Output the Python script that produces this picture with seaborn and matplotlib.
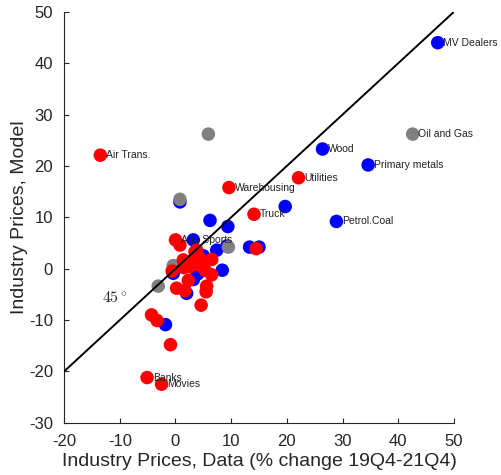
import pandas as pd
import matplotlib
matplotlib.use("Agg")
import matplotlib.pyplot as plt
import seaborn as sns

# 数据：行业价格变化（数据 vs 模型）
blue_x = [47.1, 26.4, 34.6, 28.9, 19.7, 0.8, 6.2, 9.4, 13.3, 15.0, 9.2, 7.4,
          3.2, 8.4, -0.4, 3.2, 2.0, -1.8, 5.0, 2.0, 4.0]
blue_y = [44.0, 23.3, 20.2, 9.2, 12.1, 13.0, 9.4, 8.2, 4.2, 4.2, 4.4, 3.6,
          5.6, -0.3, -0.9, -2.1, -4.8, -10.9, 2.5, 1.0, -1.0]
gray_x = [42.6, 5.9, 0.8, 9.5, -0.4, -3.1]
gray_y = [26.2, 26.2, 13.5, 4.2, 0.6, -3.4]
red_x = [-13.5, 22.1, 9.6, 14.1, 14.5, 0.0, 0.8, 3.8, 1.4, 3.2, 4.4, 6.5,
         -0.6, 2.6, 4.4, 5.3, 6.5, 2.3, 0.2, 1.7, 5.6, 5.5, 4.6, -4.3,
         -3.3, -0.9, -5.1, -2.5, 3.5, 1.5]
red_y = [22.1, 17.7, 15.8, 10.6, 3.9, 5.6, 4.6, 3.6, 1.7, 1.4, 2.0, 1.8,
         -0.45, 0.4, 0.7, -0.3, -1.2, -2.3, -3.8, -4.3, -3.4, -4.5, -7.1, -9.0,
         -10.1, -14.8, -21.2, -22.5, 3.3, 0.2]

# 标注的行业
label_names = ["MV Dealers", "Wood", "Primary metals", "Petrol.Coal",
               "Oil and Gas", "Air Trans.", "Utilities", "Warehousing",
               "Truck", "Arts Sports", "Banks", "Movies"]
label_x = [47.1, 26.4, 34.6, 28.9, 42.6, -13.5, 22.1, 9.6, 14.1, 0.0, -5.1, -2.5]
label_y = [44.0, 23.3, 20.2, 9.2, 26.2, 22.1, 17.7, 15.8, 10.6, 5.6, -21.2, -22.5]

df = pd.concat([
    pd.DataFrame({"data": blue_x, "model": blue_y, "grp": "blue"}),
    pd.DataFrame({"data": gray_x, "model": gray_y, "grp": "gray"}),
    pd.DataFrame({"data": red_x, "model": red_y, "grp": "red"}),
], ignore_index=True)

sns.set_style("ticks")
plt.rcParams['font.family'] = ['Liberation Sans', 'DejaVu Sans']
plt.rcParams['mathtext.fontset'] = 'cm'
plt.rcParams['axes.unicode_minus'] = False

fig = plt.figure(figsize=(5.01, 4.75), dpi=100)
ax = fig.add_axes([0.128, 0.110, 0.778, 0.865])

sns.scatterplot(data=df, x="data", y="model", hue="grp",
                palette={"blue": "#0000ff", "gray": "#808080", "red": "#ff0000"},
                s=95, linewidth=0, legend=False, ax=ax, zorder=2)

ax.axline((0, 0), slope=1, color="black", lw=1.4, zorder=3)

for name, x, y in zip(label_names, label_x, label_y):
    ax.annotate(name, (x, y), xytext=(4, 0), textcoords="offset points",
                fontsize=7.5, va="center", ha="left", color="#222222", zorder=4)

ax.text(-10.9, -5.8, r"$45^\circ$", fontsize=11.5, ha="center", va="center")

ax.set_xlim(-20, 50)
ax.set_ylim(-30, 50)
ax.set_xticks(range(-20, 51, 10))
ax.set_yticks(range(-30, 51, 10))
ax.tick_params(direction="in", length=3.5, labelsize=12, colors="#262626")
ax.tick_params(axis="x", pad=8)
ax.tick_params(axis="y", pad=8)
sns.despine(ax=ax)
for s in ["left", "bottom"]:
    ax.spines[s].set_color("#262626")
ax.set_xlabel("Industry Prices, Data (% change 19Q4-21Q4)", fontsize=14,
              color="#262626", labelpad=3)
ax.set_ylabel("Industry Prices, Model", fontsize=14, color="#262626",
              labelpad=1)

fig.savefig("out.png", dpi=100)
